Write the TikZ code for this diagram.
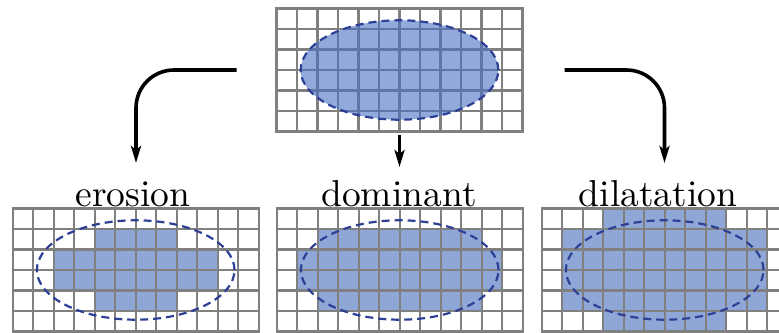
\documentclass[tikz,border=0pt]{standalone}
\usepackage{fontspec}
\newfontfamily\labfont{lmroman10-regular.otf}
\usetikzlibrary{arrows.meta}
\definecolor{gridgray}{RGB}{128,128,128}
\definecolor{cellblue}{RGB}{143,167,215}
\definecolor{ellblue}{RGB}{74,112,196}
\definecolor{dashblue}{RGB}{46,64,150}
\newcommand\pixgrid[2]{%
  \foreach \i in {1,...,11} \draw[gridline] (#1+\i*20.5,#2) -- ++(0,123);
  \foreach \j in {1,...,5} \draw[gridline] (#1,#2+\j*20.5) -- ++(246,0);}
\newcommand\cellrun[5]{%
  \fill[cellblue] (#1+#4*20.5,#2+#3*20.5) rectangle (#1+#5*20.5+20.5,#2+#3*20.5+20.5);}
\tikzset{
  gridline/.style={draw=gridgray, line width=2.1pt},
  gridframe/.style={draw=gridgray, line width=2.1pt, minimum width=246pt, minimum height=123pt, inner sep=0pt, outer sep=0pt, anchor=north west},
  dashell/.style={draw=dashblue, line width=2.2pt, dash pattern=on 8pt off 5pt},
  flow/.style={line width=3.6pt, -{Stealth[length=17pt, width=10pt, inset=4pt]}},
  lab/.style={font=\labfont\fontsize{37.5}{45}\selectfont, anchor=base, inner sep=0pt}
}
\begin{document}
\begin{tikzpicture}[x=1pt, y=-1pt]
\useasboundingbox (0,0) rectangle (779,332);
\clip (0,0) rectangle (779,332);
\fill[white] (0,0) rectangle (779,332);
% top grid
\node[gridframe] (top) at (276.5,8.5) {};
\pixgrid{276.5}{8.5}
\fill[ellblue, opacity=0.6] (top.center) ellipse [x radius=98.8pt, y radius=49.7pt];
\draw[dashell] (top.center) ellipse [x radius=98.8pt, y radius=49.7pt];
% erosion
\cellrun{12.7}{208.5}{1}{4}{7}
\cellrun{12.7}{208.5}{2}{2}{9}
\cellrun{12.7}{208.5}{3}{2}{9}
\cellrun{12.7}{208.5}{4}{4}{7}
\node[gridframe] (ero) at (12.7,208.5) {};
\pixgrid{12.7}{208.5}
\draw[dashell] (ero.center) ellipse [x radius=98.8pt, y radius=49.7pt];
% dominant
\cellrun{276.7}{208.5}{1}{2}{9}
\cellrun{276.7}{208.5}{2}{1}{10}
\cellrun{276.7}{208.5}{3}{1}{10}
\cellrun{276.7}{208.5}{4}{2}{9}
\node[gridframe] (dom) at (276.7,208.5) {};
\pixgrid{276.7}{208.5}
\draw[dashell] (dom.center) ellipse [x radius=98.8pt, y radius=49.7pt];
% dilatation
\cellrun{541.7}{208.5}{0}{3}{8}
\cellrun{541.7}{208.5}{1}{1}{10}
\cellrun{541.7}{208.5}{2}{1}{10}
\cellrun{541.7}{208.5}{3}{1}{10}
\cellrun{541.7}{208.5}{4}{1}{10}
\cellrun{541.7}{208.5}{5}{3}{8}
\node[gridframe] (dil) at (541.7,208.5) {};
\pixgrid{541.7}{208.5}
\draw[dashell] (dil.center) ellipse [x radius=98.8pt, y radius=49.7pt];
% labels
\node[lab] (labE) at (133,206) {erosion};
\node[lab] (labM) at (399,206) {dominant};
\node[lab] (labD) at (658,206) {dilatation};
% arrows
\coordinate (tipE) at (136,163);
\coordinate (tipM) at (399.5,167);
\coordinate (tipD) at (664.5,163);
\draw[flow, rounded corners=38pt] ([xshift=-40pt]top.west) -| (tipE);
\draw[flow, rounded corners=38pt] ([xshift=42pt]top.east) -| (tipD);
\draw[flow] ([yshift=-3pt]top.south) -- (tipM);
\end{tikzpicture}
\end{document}
